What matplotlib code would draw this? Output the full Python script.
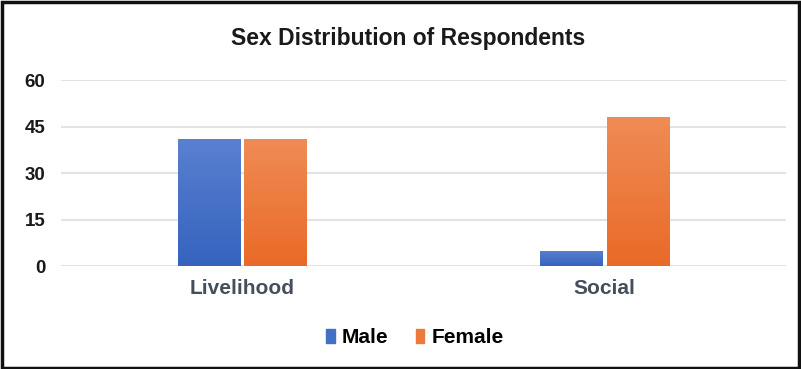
import matplotlib
matplotlib.use("Agg")
import matplotlib.pyplot as plt
import numpy as np
from matplotlib.patches import Rectangle

plt.rcParams['font.family'] = ['Liberation Sans Narrow', 'Liberation Sans', 'DejaVu Sans']

categories = ["Livelihood", "Social"]
series_names = ["Male", "Female"]
male = [41, 5]
female = [41, 48]
y_ticks = [0, 15, 30, 45, 60]

blue_top, blue_bottom = "#5a80d0", "#3563be"
orange_top, orange_bottom = "#ef8c55", "#e96a28"

fig = plt.figure(figsize=(8.01, 3.69), dpi=100)
ax = fig.add_axes([0.076, 0.279, 0.905, 0.504])

x = np.arange(len(categories))
width = 0.172
gap = 0.011


def gradient_bars(bars, top, bottom):
    cmap = matplotlib.colors.LinearSegmentedColormap.from_list("g", [bottom, top])
    grad = np.linspace(0, 1, 256).reshape(-1, 1)
    for b in bars:
        bx, by = b.get_x(), b.get_y()
        w, h = b.get_width(), b.get_height()
        im = ax.imshow(grad, cmap=cmap, origin="lower", aspect="auto",
                       extent=[bx, bx + w, by, by + h], zorder=3)
        im.set_clip_path(b)


bars_m = ax.bar(x - width / 2 - gap / 2, male, width, color=blue_bottom, zorder=2, label="Male")
bars_f = ax.bar(x + width / 2 + gap / 2, female, width, color=orange_bottom, zorder=2, label="Female")
gradient_bars(bars_m, blue_top, blue_bottom)
gradient_bars(bars_f, orange_top, orange_bottom)

ax.set_xlim(-0.5, 1.5)
ax.set_ylim(0, 60)
ax.set_yticks(y_ticks)
ax.set_yticklabels([str(t) for t in y_ticks], fontsize=13.5, fontweight="bold", color="#1a1a1a")
ax.set_xticks(x)
ax.set_xticklabels(categories, fontsize=15, fontweight="bold", color="#444f5b")
ax.tick_params(axis="both", length=0)
ax.tick_params(axis="y", pad=11)
ax.tick_params(axis="x", pad=9)
ax.grid(axis="y", color="#e3e3e3", linewidth=1.5, zorder=0)
for s in ax.spines.values():
    s.set_visible(False)

fig.text(0.51, 0.895, "Sex Distribution of Respondents", ha="center", va="center",
         fontsize=16.5, fontweight="bold", color="#1a1a1a")

handles = [Rectangle((0, 0), 1, 1, color="#4270c6"), Rectangle((0, 0), 1, 1, color="#ec7a3c")]
fig.legend(handles, series_names, loc="center", bbox_to_anchor=(0.518, 0.085), ncol=2,
           frameon=False, handlelength=0.4, handleheight=0.65, handletextpad=0.35,
           columnspacing=1.3, prop={"size": 15, "weight": "bold"})

fig.patches.append(Rectangle((0.003, 0.004), 0.994, 0.99, transform=fig.transFigure,
                             fill=False, edgecolor="#111111", linewidth=2.5))

fig.savefig("out.png", dpi=100)
